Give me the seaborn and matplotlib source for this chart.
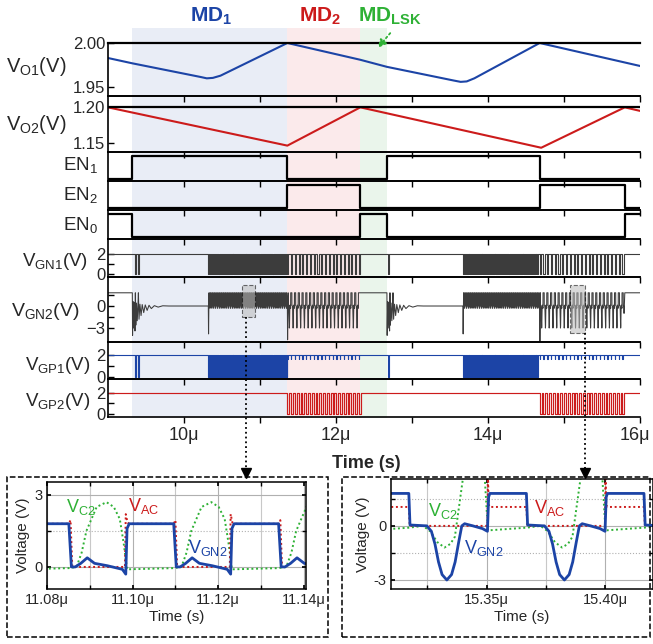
import numpy as np
import seaborn as sns
import matplotlib.pyplot as plt
from matplotlib import transforms
from matplotlib.patches import Rectangle
from matplotlib.lines import Line2D

# ---- data (time in microseconds, voltages in V) ----
T0, T1 = 9.0, 16.0

# output voltages
vo1_t = [9.0, 9.32, 10.22, 10.30, 10.38, 10.48, 11.36, 12.32, 12.67, 13.55, 13.64, 13.72, 13.82, 14.68, 16.0]
vo1_v = [1.983, 1.977, 1.9615, 1.9600, 1.9605, 1.963, 2.000, 1.981, 1.973, 1.9575, 1.956, 1.9565, 1.960, 2.000, 1.974]
vo2_t = [9.0, 11.36, 12.32, 14.70, 15.80, 16.0]
vo2_v = [1.200, 1.146, 1.200, 1.143, 1.200, 1.195]

# mode boundaries (MD1, MD2, MDLSK)
md_edges = [9.32, 11.36, 12.32, 12.67]
md_names = [r'$\mathbf{MD_1}$', r'$\mathbf{MD_2}$', r'$\mathbf{MD_{LSK}}$']

# enable signals, level per segment between en_edges
en_edges = [9.0, 9.32, 11.36, 12.32, 12.67, 14.68, 15.80, 16.0]
en1 = [0, 1, 0, 0, 1, 0, 0]
en2 = [0, 0, 1, 0, 0, 1, 0]
en0 = [1, 0, 0, 1, 0, 0, 1]

# switching bursts
burst_t0 = [10.32, 11.36, 13.67, 14.68]
burst_t1 = [11.36, 12.32, 14.68, 15.80]
burst_period = [0.0245, 0.0495, 0.0245, 0.0495]
burst_kind = ['dense', 'sparse', 'dense', 'sparse']
kick_t = [9.355, 9.40, 12.69]
burst_spike = [-3.8, -4.6, -3.8, -4.8]

# pulse widths / low levels per gate signal
gn1_w = {'dense': 0.012, 'sparse': 0.014, 'kick': 0.012}
gn1_lo = {'dense': 0.0, 'sparse': 0.0, 'kick': 0.0}
gp1_w = {'dense': 0.012, 'sparse': 0.004, 'kick': 0.012}
gp1_lo = {'dense': 0.0, 'sparse': 1.65, 'kick': 0.0}
gp2_w = {'sparse': 0.025}
gp2_lo = {'sparse': 0.0}

# VGN2 ringing after EN0 turns off
ring_dt = [0.0, 0.003, 0.010, 0.018, 0.026, 0.035, 0.040, 0.046, 0.055, 0.065, 0.075, 0.080, 0.088,
           0.10, 0.115, 0.13, 0.15, 0.17, 0.195, 0.22, 0.25, 0.29, 0.34, 0.40, 0.48, 0.56]
ring_v = [1.8, -4.0, 0.6, -3.0, 0.5, -3.4, 1.8, -2.6, 0.4, -2.0, 0.3, 1.8, -1.8,
          0.25, -1.3, 0.2, -0.9, 0.15, -0.6, 0.1, -0.35, 0.05, -0.15, 0.03, 0.0, 0.0]
spike_dt = [0.0, 0.003, 0.008]

# one switching period, MD1 (left zoom), relative to falling edge of VGN2
d_per = 0.0245
d_gn2_dt = [0.0, 0.0006, 0.0015, 0.0028, 0.0043, 0.0060, 0.0090, 0.0125, 0.0133, 0.0136, 0.0141, 0.0245]
d_gn2_v = [1.8, 0.0, 0.0, 0.15, 0.38, 0.15, 0.05, -0.1, -0.3, 1.6, 1.8, 1.8]
d_vc2_dt = [0.0, 0.0018, 0.0030, 0.0041, 0.0065, 0.0088, 0.0105, 0.0119, 0.0128, 0.0136, 0.0245]
d_vc2_v = [-0.05, 0.0, 0.6, 1.5, 2.5, 2.7, 2.5, 2.0, 1.0, -0.1, -0.05]
d_vac_dt = [0.0, 0.0004, 0.0008, 0.0131, 0.0133, 0.0137, 0.0141, 0.0245]
d_vac_v = [1.8, 1.95, 0.0, 0.0, 2.2, 1.85, 1.8, 1.8]
d_first_fall = 11.0851

# one switching period, MD2 (right zoom), relative to falling edge of VGN2
s_per = 0.0495
s_gn2_dt = [0.0, 0.0005, 0.0076, 0.0095, 0.011, 0.0125, 0.014, 0.016, 0.018, 0.0195, 0.021, 0.0223,
            0.0235, 0.027, 0.031, 0.0331, 0.0336, 0.0341, 0.0495]
s_gn2_v = [1.8, 0.05, 0.0, -0.3, -1.0, -2.0, -2.7, -3.0, -2.7, -2.0, -0.9, 0.0,
           0.12, 0.0, -0.15, -0.3, 1.6, 1.8, 1.8]
s_vc2_dt = [0.0, 0.006, 0.009, 0.012, 0.015, 0.0175, 0.0194, 0.0227, 0.026, 0.029, 0.032, 0.0333, 0.0495]
s_vc2_v = [-0.1, 0.0, -0.3, -0.9, -1.2, -1.0, -0.6, 2.55, 4.5, 4.5, 2.6, -0.25, -0.1]
s_vac_dt = [0.0, 0.0004, 0.0331, 0.0333, 0.0336, 0.0340, 0.0495]
s_vac_v = [1.05, 0.0, 0.0, 3.0, 1.2, 1.05, 1.05]
s_first_fall = 15.3172

# ---- style ----
sns.set_theme(style='white')
plt.rcParams['font.family'] = ['Liberation Sans', 'DejaVu Sans']
plt.rcParams['mathtext.fontset'] = 'custom'
plt.rcParams['mathtext.rm'] = 'Liberation Sans'
plt.rcParams['mathtext.it'] = 'Liberation Sans:italic'
plt.rcParams['mathtext.bf'] = 'Liberation Sans:bold'

BLUE = '#1c44a6'
RED = '#cc1b1b'
GREEN = '#2eb135'
GRAY = '#3c3c3c'
SHADE = ['#e9edf6', '#fbeaeb', '#eaf5eb']

W, H = 653, 644


def fx(x):
    return x / W


def fy(y):
    return 1 - y / H


def draw(ax, t, v, color, lw=1.0, ls='-'):
    sns.lineplot(x=np.asarray(t, float), y=np.asarray(v, float), ax=ax, color=color, lw=lw,
                 linestyle=ls, estimator=None, sort=False, legend=False)


def tile(dt, v, start, stop, period):
    ts, vs = [], []
    for s in np.arange(start, stop, period):
        for d, y in zip(dt, v):
            if s + d <= stop:
                ts.append(s + d)
                vs.append(y)
    return ts, vs


def gate(hi, widths, lows):
    pieces = [(k, k + widths['kick'], 1.0, 'kick') for k in kick_t] if 'kick' in widths else []
    for a, b, p, kind in zip(burst_t0, burst_t1, burst_period, burst_kind):
        if kind in widths:
            pieces.append((a, b, p, kind))
    pieces.sort()
    t, v = [T0], [hi]
    for a, b, p, kind in pieces:
        w, lo = widths[kind], lows[kind]
        for s in np.arange(a, b - w / 2, p):
            t += [s, s, s + w, s + w]
            v += [hi, lo, lo, hi]
    t.append(T1)
    v.append(hi)
    return t, v


def steps(edges, levels):
    t, v = [], []
    for i, lv in enumerate(levels):
        t += [edges[i], edges[i + 1]]
        v += [lv, lv]
    return t, v


fig = plt.figure(figsize=(W / 100, H / 100), dpi=100)
axes = fig.subplots(9, 1, sharex=True, gridspec_kw=dict(
    height_ratios=[53, 56, 29, 29, 29, 38, 65, 37, 38], hspace=0,
    left=fx(108), right=fx(640), top=fy(43), bottom=fy(417)))
ax_o1, ax_o2, ax_e1, ax_e2, ax_e0, ax_n1, ax_n2, ax_p1, ax_p2 = axes

# mode shading across all panels
bt = transforms.blended_transform_factory(ax_o1.transData, fig.transFigure)
for i in range(3):
    fig.add_artist(Rectangle((md_edges[i], fy(418)), md_edges[i + 1] - md_edges[i], fy(28) - fy(418),
                             transform=bt, color=SHADE[i], zorder=-10, lw=0))
md_x = [211, 320, 390]
md_c = [BLUE, RED, GREEN]
for name, x, c in zip(md_names, md_x, md_c):
    fig.text(fx(x), fy(16), name, color=c, fontsize=15, ha='center', va='center')
fig.add_artist(plt.Annotation('', xy=(fx(376), fy(50)), xytext=(fx(392), fy(31)),
                              xycoords='figure fraction', textcoords='figure fraction',
                              arrowprops=dict(arrowstyle='-|>', color=GREEN, ls=':', lw=1.3,
                                              mutation_scale=12)))

# VO1 / VO2
draw(ax_o1, vo1_t, vo1_v, BLUE, 1.5)
ax_o1.set_ylim(1.94, 2.0)
ax_o1.set_yticks([1.95, 2.00], ['1.95', '2.00'])
draw(ax_o2, vo2_t, vo2_v, RED, 1.5)
ax_o2.axhline(1.2, color='black', lw=1.6)
ax_o2.set_ylim(1.137, 1.216)
ax_o2.set_yticks([1.15, 1.20], ['1.15', '1.20'])

# enables
for ax, lv in zip([ax_e1, ax_e2, ax_e0], [en1, en2, en0]):
    t, v = steps(en_edges, lv)
    draw(ax, t, v, 'black', 1.6)
    ax.set_ylim(-0.09, 1.17)
    ax.set_yticks([])

# gate drives
t, v = gate(2.0, gn1_w, gn1_lo)
draw(ax_n1, t, v, GRAY, 0.8)
ax_n1.set_ylim(-0.3, 3.5)

t, v = gate(2.0, gp1_w, gp1_lo)
draw(ax_p1, t, v, BLUE, 0.8)
ax_p1.set_ylim(-0.19, 3.24)

t, v = gate(2.0, gp2_w, gp2_lo)
draw(ax_p2, t, v, RED, 0.85)
ax_p2.set_ylim(-0.29, 3.33)

for ax in [ax_n1, ax_p1, ax_p2]:
    ax.set_yticks([0, 2], ['0', '2'])
    ax.set_yticks([1], minor=True)

# VGN2
gt, gv = [T0, md_edges[0]], [1.8, 1.8]
ring_starts = [md_edges[0], md_edges[3]]
ri = 0
for a, b, p, kind, sp in zip(burst_t0, burst_t1, burst_period, burst_kind, burst_spike):
    if kind == 'dense':
        rs = ring_starts[ri]
        ri += 1
        gt += [rs + d for d in ring_dt]
        gv += ring_v
        gt += [a + d for d in spike_dt]
        gv += [0.0, sp, 0.0]
        tt, vv = tile(d_gn2_dt, d_gn2_v, a + 0.009, b - 0.005, p)
    else:
        gt += [a + d for d in spike_dt]
        gv += [0.0, sp, 0.0]
        tt, vv = tile(s_gn2_dt, s_gn2_v, a + 0.01, b - 0.01, p)
        tt += [b, b]
        vv += [1.8, 1.8]
        if b < md_edges[3]:
            tt.append(md_edges[3])
            vv.append(1.8)
    gt += tt
    gv += vv
gt.append(T1)
gv.append(1.8)
draw(ax_n2, gt, gv, GRAY, 0.75)
ax_n2.set_ylim(-4.9, 3.95)
ax_n2.set_yticks([-3, 0], ['\u22123', '0'])
ax_n2.set_yticks([-1.5, 1.5], minor=True)

# zoom markers
for x0, x1, y1 in [(10.76, 10.93, -1.5), (15.08, 15.27, -3.7)]:
    ax_n2.add_patch(Rectangle((x0, y1), x1 - x0, 2.9 - y1, facecolor='#bbbbbb', alpha=0.55,
                              edgecolor='black', ls='--', lw=0.8, zorder=5))
for xp, yp in [(246, 317), (585, 333)]:
    fig.add_artist(Line2D([fx(xp), fx(xp)], [fy(yp), fy(470)], transform=fig.transFigure,
                          color='black', ls=':', lw=1.3))
    fig.add_artist(Line2D([fx(xp)], [fy(473)], transform=fig.transFigure, marker='v',
                          color='black', markersize=7))

labels = [r'V$_{\rm O1}$(V)', r'V$_{\rm O2}$(V)', r'EN$_{\rm 1}$', r'EN$_{\rm 2}$', r'EN$_{\rm 0}$',
          r'V$_{\rm GN1}$(V)', r'V$_{\rm GN2}$(V)', r'V$_{\rm GP1}$(V)', r'V$_{\rm GP2}$(V)']
lab_x = [66, 66, 98, 98, 98, 88, 80, 90, 90]
lab_y = [67, 125, 165, 195, 225, 262, 312, 365, 402]
lab_fs = [14.5, 14.5, 13.5, 13.5, 13.5, 13.5, 14, 13.5, 13.5]
for s, x, y, f in zip(labels, lab_x, lab_y, lab_fs):
    fig.text(fx(x), fy(y), s, ha='right', va='center', fontsize=f)

for ax in axes:
    ax.set_facecolor('none')
    ax.set_xlim(T0, T1)
    ax.spines['right'].set_visible(False)
    for sp in ['left', 'top', 'bottom']:
        ax.spines[sp].set_color('black')
        ax.spines[sp].set_linewidth(1.2)
    ax.tick_params(axis='x', which='both', direction='out', length=4, width=1, color='black',
                   bottom=True, labelsize=13)
    ax.tick_params(axis='y', which='both', direction='in', length=4, width=1, color='black',
                   left=True, labelsize=12, pad=2)
    ax.set_ylabel('')
    ax.set_xlabel('')
ax_o1.spines['top'].set_linewidth(1.6)
ax_p2.set_xticks([10, 11, 12, 13, 14, 15, 16], ['10\u03bc', '', '12\u03bc', '', '14\u03bc', '', '16\u03bc'])
last = ax_p2.get_xticklabels()[-1]
last.set_transform(last.get_transform() + transforms.ScaledTranslation(-5 / 100, 0, fig.dpi_scale_trans))
fig.text(fx(366), fy(463), 'Time (s)', ha='center', va='center', fontsize=13, fontweight='bold')

# ---- zoomed insets ----
for x0, x1 in [(7, 328), (342, 650)]:
    fig.add_artist(Rectangle((fx(x0), fy(637)), fx(x1) - fx(x0), fy(477) - fy(637), transform=fig.transFigure,
                             fill=False, ls='--', lw=1.1, edgecolor='black'))

axL = fig.add_axes([fx(47), fy(589), fx(306) - fx(47), fy(482) - fy(589)])
axR = fig.add_axes([fx(391), fy(589), fx(653) - fx(391), fy(479) - fy(589)])

t0 = d_first_fall - d_per
t, v = tile(d_vc2_dt, d_vc2_v, t0, 11.145, d_per)
draw(axL, t, v, GREEN, 1.4, (0, (1, 1.4)))
t, v = tile(d_vac_dt, d_vac_v, t0, 11.145, d_per)
draw(axL, t, v, RED, 1.4, (0, (1, 1.4)))
t, v = tile(d_gn2_dt, d_gn2_v, t0, 11.145, d_per)
draw(axL, t, v, BLUE, 2.0)
axL.set_xlim(11.08, 11.1405)
axL.set_ylim(-0.92, 3.54)
axL.set_xticks([11.08, 11.10, 11.12, 11.14], ['11.08\u03bc', '11.10\u03bc', '11.12\u03bc', '11.14\u03bc'])
axL.set_xticks([11.09, 11.11, 11.13], minor=True)
axL.set_yticks([0, 3], ['0', '3'])
axL.set_yticks([1.5], minor=True)
axL.text(11.088, 2.5, r'V$_{\rm C2}$', color=GREEN, fontsize=13, ha='center', va='center')
axL.text(11.1025, 2.55, r'V$_{\rm AC}$', color=RED, fontsize=13, ha='center', va='center')
axL.text(11.1175, 0.8, r'V$_{\rm GN2}$', color=BLUE, fontsize=13, ha='center', va='center')

t0 = s_first_fall - s_per
t, v = tile(s_vc2_dt, s_vc2_v, t0, 15.43, s_per)
draw(axR, t, v, GREEN, 1.4, (0, (1, 1.4)))
t, v = tile(s_vac_dt, s_vac_v, t0, 15.43, s_per)
draw(axR, t, v, RED, 1.4, (0, (1, 1.4)))
t, v = tile(s_gn2_dt, s_gn2_v, t0, 15.43, s_per)
draw(axR, t, v, BLUE, 2.0)
axR.set_xlim(15.3097, 15.42)
axR.set_ylim(-3.5, 2.6)
axR.set_xticks([15.35, 15.40], ['15.35\u03bc', '15.40\u03bc'])
axR.set_xticks([15.325, 15.375], minor=True)
axR.set_yticks([-3, 0], ['-3', '0'])
axR.set_yticks([-1.5, 1.5], minor=True)
axR.text(15.3315, 0.85, r'V$_{\rm C2}$', color=GREEN, fontsize=13, ha='center', va='center')
axR.text(15.3765, 1.0, r'V$_{\rm AC}$', color=RED, fontsize=13, ha='center', va='center')
axR.text(15.3487, -1.25, r'V$_{\rm GN2}$', color=BLUE, fontsize=13, ha='center', va='center')

for ax in [axL, axR]:
    ax.set_facecolor('white')
    ax.grid(True, which='major', color='#b0b0b0', lw=0.8)
    ax.grid(True, which='minor', axis='x', color='#c8c8c8', lw=0.8)
    ax.grid(True, which='minor', axis='y', color='#b0b0b0', lw=0.8, ls=':')
    for sp in ax.spines.values():
        sp.set_color('black')
        sp.set_linewidth(1.1)
    ax.tick_params(which='both', direction='in', length=3, top=True, right=True, bottom=True, left=True,
                   color='black', labelsize=10.5, pad=3)
    ax.set_xlabel('Time (s)', fontsize=11, labelpad=2)
    ax.set_ylabel('Voltage (V)', fontsize=11, labelpad=3)

fig.savefig('out.png', dpi=100)
